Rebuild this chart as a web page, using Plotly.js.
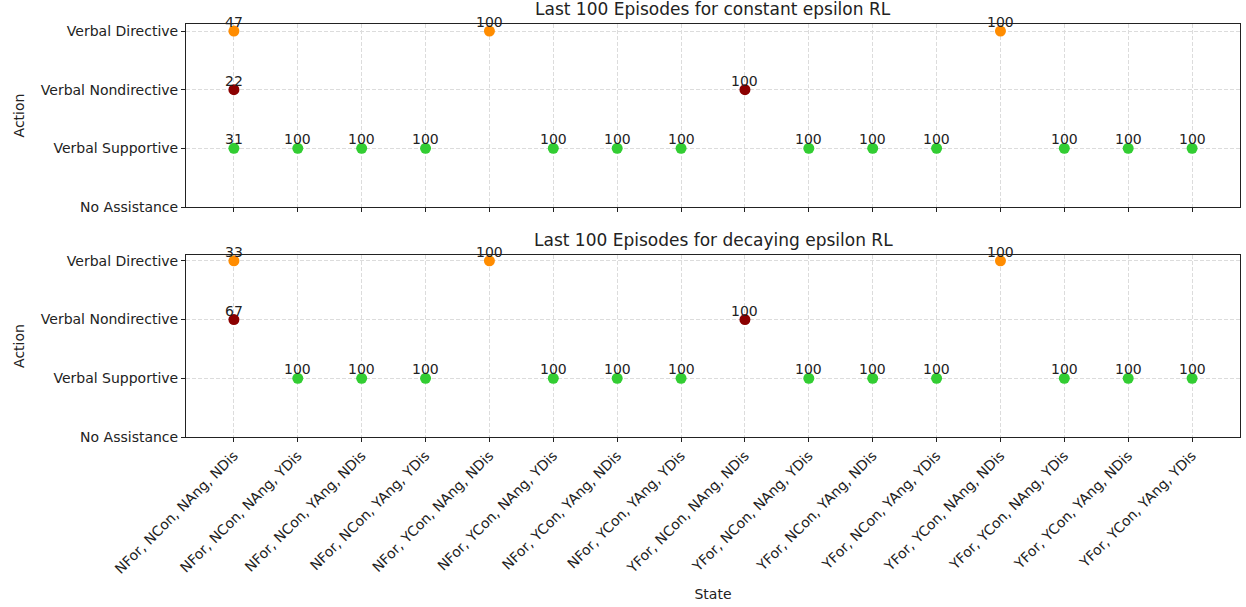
<!DOCTYPE html>
<html>
<head>
<meta charset="utf-8">
<script src="https://cdn.plot.ly/plotly-3.0.1.min.js"></script>
<style>html,body{margin:0;padding:0;background:#fff;}#chart{width:1246px;height:607px;}</style>
</head>
<body>
<div id="chart"></div>
<script>
const states = ["NFor, NCon, NAng, NDis","NFor, NCon, NAng, YDis","NFor, NCon, YAng, NDis","NFor, NCon, YAng, YDis",
  "NFor, YCon, NAng, NDis","NFor, YCon, NAng, YDis","NFor, YCon, YAng, NDis","NFor, YCon, YAng, YDis",
  "YFor, NCon, NAng, NDis","YFor, NCon, NAng, YDis","YFor, NCon, YAng, NDis","YFor, NCon, YAng, YDis",
  "YFor, YCon, NAng, NDis","YFor, YCon, NAng, YDis","YFor, YCon, YAng, NDis","YFor, YCon, YAng, YDis"];
const actions = ["No Assistance","Verbal Supportive","Verbal Nondirective","Verbal Directive"];
const actionColors = {"Verbal Directive":"#FF8C00","Verbal Nondirective":"#8B0000","Verbal Supportive":"#32CD32","No Assistance":"#1f77b4"};

// constant epsilon RL
const constStates = [states[0],states[0],states[0],states[1],states[2],states[3],states[4],states[5],states[6],states[7],states[8],states[9],states[10],states[11],states[12],states[13],states[14],states[15]];
const constActions = ["Verbal Directive","Verbal Nondirective","Verbal Supportive","Verbal Supportive","Verbal Supportive","Verbal Supportive","Verbal Directive","Verbal Supportive","Verbal Supportive","Verbal Supportive","Verbal Nondirective","Verbal Supportive","Verbal Supportive","Verbal Supportive","Verbal Directive","Verbal Supportive","Verbal Supportive","Verbal Supportive"];
const constCounts = [47,22,31,100,100,100,100,100,100,100,100,100,100,100,100,100,100,100];

// decaying epsilon RL
const decStates = [states[0],states[0],states[1],states[2],states[3],states[4],states[5],states[6],states[7],states[8],states[9],states[10],states[11],states[12],states[13],states[14],states[15]];
const decActions = ["Verbal Directive","Verbal Nondirective","Verbal Supportive","Verbal Supportive","Verbal Supportive","Verbal Directive","Verbal Supportive","Verbal Supportive","Verbal Supportive","Verbal Nondirective","Verbal Supportive","Verbal Supportive","Verbal Supportive","Verbal Directive","Verbal Supportive","Verbal Supportive","Verbal Supportive"];
const decCounts = [33,67,100,100,100,100,100,100,100,100,100,100,100,100,100,100,100];

const titles = ["Last 100 Episodes for constant epsilon RL","Last 100 Episodes for decaying epsilon RL"];

const font = {family:"DejaVu Sans, sans-serif", size:14, color:"#222"};

function trace(xs, ys, xa, ya){
  return {x:xs, y:ys, xaxis:xa, yaxis:ya, type:"scatter", mode:"markers",
    marker:{size:11, color:ys.map(a=>actionColors[a])}, hoverinfo:"x+y", showlegend:false, cliponaxis:false};
}
function labels(xs, ys, cs, xa, ya){
  return xs.map((x,i)=>({x:x, y:ys[i], xref:xa, yref:ya, text:String(cs[i]), showarrow:false,
    xanchor:"center", yanchor:"bottom", yshift:-1, font:{family:font.family,size:14,color:"#222"}}));
}

const yax = {type:"category", categoryorder:"array", categoryarray:actions, range:[0,3.12],
  showline:true, mirror:true, linecolor:"#222", linewidth:1, ticks:"outside", ticklen:4, tickcolor:"#222",
  showgrid:true, gridcolor:"#dcdcdc", griddash:"4px,2px", gridwidth:1, zeroline:false, automargin:false,
  tickfont:font, title:{text:"Action", font:font, standoff:12}};
const xax = {type:"category", categoryorder:"array", categoryarray:states, range:[-0.75,15.75],
  showline:true, mirror:true, linecolor:"#222", linewidth:1, ticks:"outside", ticklen:4, tickcolor:"#222",
  showgrid:true, gridcolor:"#dcdcdc", griddash:"4px,2px", gridwidth:1, zeroline:false, automargin:false, tickfont:font};

const layout = {
  width:1246, height:607, paper_bgcolor:"#fff", plot_bgcolor:"#fff", font:font,
  margin:{l:186, r:6, t:24, b:170},
  xaxis:Object.assign({}, xax, {domain:[0,1], anchor:"y", matches:"x2", showticklabels:false}),
  yaxis:Object.assign({}, yax, {domain:[0.5569,1], anchor:"x"}),
  xaxis2:Object.assign({}, xax, {domain:[0,1], anchor:"y2", tickangle:-45, title:{text:"State", font:font, standoff:13}}),
  yaxis2:Object.assign({}, yax, {domain:[0,0.4407], anchor:"x2", range:[0,3.1]}),
  annotations: [].concat(
    labels(constStates, constActions, constCounts, "x", "y"),
    labels(decStates, decActions, decCounts, "x2", "y2"),
    [{text:titles[0], xref:"paper", yref:"paper", x:0.5, y:1, xanchor:"center", yanchor:"bottom", yshift:3, showarrow:false, font:{family:font.family,size:17,color:"#222"}},
     {text:titles[1], xref:"paper", yref:"paper", x:0.5, y:0.4407, xanchor:"center", yanchor:"bottom", yshift:3, showarrow:false, font:{family:font.family,size:17,color:"#222"}}]
  )
};

Plotly.newPlot("chart", [trace(constStates, constActions, "x", "y"), trace(decStates, decActions, "x2", "y2")], layout, {displayModeBar:false, staticPlot:true});
</script>
</body>
</html>
